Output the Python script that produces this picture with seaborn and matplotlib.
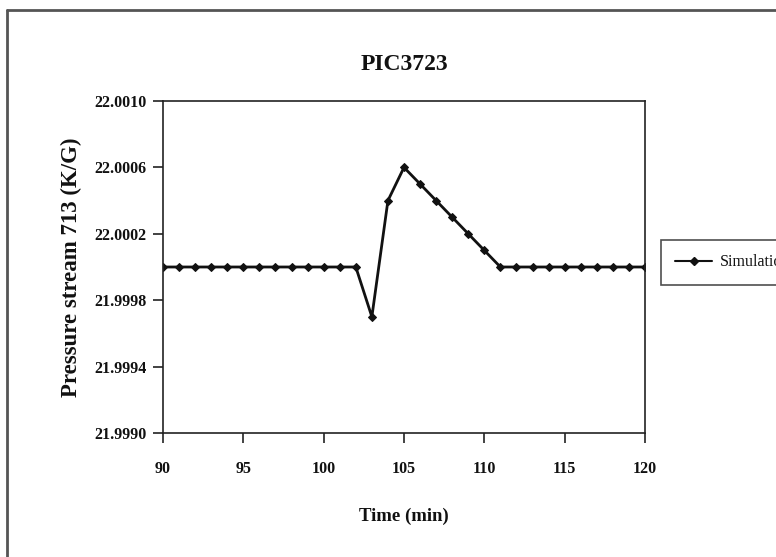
import matplotlib
matplotlib.use("Agg")
import matplotlib.pyplot as plt
import seaborn as sns
import pandas as pd
from matplotlib.lines import Line2D

# data
time_min = list(range(90, 121))
pressure = [22.0000] * 13 + [21.9997, 22.0004, 22.0006, 22.0005, 22.0004,
                             22.0003, 22.0002, 22.0001] + [22.0000] * 10
x_ticks = [90, 95, 100, 105, 110, 115, 120]
y_ticks = [21.9990, 21.9994, 21.9998, 22.0002, 22.0006, 22.0010]
y_tick_labels = ["21.9990", "21.9994", "21.9998", "22.0002", "22.0006", "22.0010"]
series_name = "Simulation"

df = pd.DataFrame({"Time (min)": time_min, "Pressure": pressure, "series": series_name})

sns.set_theme(style="white")
plt.rcParams["font.family"] = ["Liberation Serif", "DejaVu Serif"]
plt.rcParams["text.color"] = "#111111"
plt.rcParams["xtick.color"] = "#111111"
plt.rcParams["ytick.color"] = "#111111"
plt.rcParams["axes.labelcolor"] = "#111111"

fig = plt.figure(figsize=(7.76, 5.57), dpi=100)
ax = fig.add_axes([163 / 776, 1 - 433 / 557, (645 - 163) / 776, (433 - 101) / 557])

sns.lineplot(data=df, x="Time (min)", y="Pressure", ax=ax, color="#111111",
             linewidth=2.0, marker="D", markersize=4.2, markeredgecolor="#111111",
             legend=False)

ax.set_xlim(90, 120)
ax.set_ylim(21.9990, 22.0010)
ax.set_xticks(x_ticks)
ax.set_xticklabels([str(v) for v in x_ticks], fontsize=11.5, fontweight="bold")
ax.set_yticks(y_ticks)
ax.set_yticklabels(y_tick_labels, fontsize=11.5, fontweight="bold")
ax.tick_params(axis="both", direction="out", length=7, width=1.2, color="#222222",
               left=True, bottom=True)
ax.tick_params(axis="x", pad=13)
ax.tick_params(axis="y", pad=5)

for s in ax.spines.values():
    s.set_color("#222222")
    s.set_linewidth(1.2)
    s.set_visible(True)

ax.set_xlabel("Time (min)", fontsize=13.5, fontweight="bold", labelpad=22)
ax.set_ylabel("Pressure stream 713 (K/G)", fontsize=16.5, fontweight="bold", labelpad=9)
ax.set_title("PIC3723", fontsize=17, fontweight="bold", pad=22)

handle = Line2D([], [], color="#111111", linewidth=1.5, marker="D", markersize=4)
leg = fig.legend([handle], [series_name], loc="upper left",
                 bbox_to_anchor=(661 / 776, 1 - 240 / 557), frameon=True,
                 fancybox=False, edgecolor="#222222", fontsize=11.5,
                 borderpad=0.9, handlelength=2.3, handletextpad=0.5,
                 borderaxespad=0)
leg.get_frame().set_linewidth(1.2)

# outer chart border (cropped at right and bottom)
fig.add_artist(Line2D([7 / 776, 1.0], [1 - 10 / 557, 1 - 10 / 557],
                      transform=fig.transFigure, color="#555555", linewidth=2))
fig.add_artist(Line2D([7 / 776, 7 / 776], [0.0, 1 - 10 / 557],
                      transform=fig.transFigure, color="#555555", linewidth=2))

fig.savefig("out.png", dpi=100)
